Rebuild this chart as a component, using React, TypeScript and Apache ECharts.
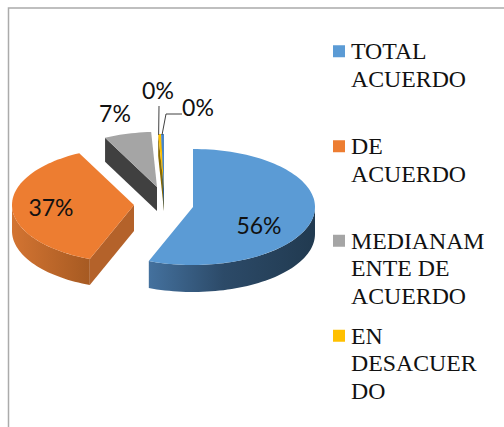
import React, { useEffect, useRef } from "react";
import * as echarts from "echarts";

const categories = ["TOTAL ACUERDO", "DE ACUERDO", "MEDIANAMENTE DE ACUERDO", "EN DESACUERDO", "TOTAL DESACUERDO"];
const shares = [55.9, 36.7, 6.6, 0.4, 0.4];
const percentLabels = ["56%", "37%", "7%", "0%", "0%"];
const legendLines = [["TOTAL", "ACUERDO"], ["DE", "ACUERDO"], ["MEDIANAM", "ENTE DE", "ACUERDO"], ["EN", "DESACUER", "DO"]];
const topColors = ["#5B9BD5", "#ED7D31", "#A5A5A5", "#FFC000", "#4A86C8"];

const CX = 162, CY = 204, RX = 122, RY = 58;
const depths = [27, 26, 24, 22, 22];
const radiusScale = [1, 1, 0.95, 0.95, 0.95];
const explode = [[31, 3], [-28, 1], [-5, -17], [2, -15], [2, -15]];
const labelAt = [[259, 225], [51, 207], [115, 113], [158, 90], [198, 107]];
const legendTop = [10, 105, 172, 267];
const wallFills = [
  [[0, "#44719E"], [0.45, "#2C4A68"], [1, "#213A50"]],
  [[0, "#D37432"], [1, "#A65A22"]],
  [[0, "#6E6E6E"], [1, "#505050"]],
  [[0, "#7F6000"], [1, "#7F6000"]],
  [[0, "#2F5F8F"], [1, "#2F5F8F"]],
];
const faceColors = ["#2C4A68", "#B4622A", "#404040", "#8A6A00", "#2F5F8F"];
const total = shares.reduce((a, b) => a + b, 0);

function rim(i: number, deg: number): number[] {
  const t = (deg * Math.PI) / 180;
  return [
    CX + explode[i][0] + RX * radiusScale[i] * Math.sin(t),
    CY + explode[i][1] - RY * radiusScale[i] * Math.cos(t),
  ];
}
function arc(i: number, a: number, b: number): number[][] {
  const n = Math.max(2, Math.ceil(Math.abs(b - a) / 2));
  const pts: number[][] = [];
  for (let k = 0; k <= n; k++) pts.push(rim(i, a + ((b - a) * k) / n));
  return pts;
}

function sliceRenderer(i: number) {
  return () => {
    const start = (shares.slice(0, i).reduce((a, b) => a + b, 0) / total) * 360;
    const end = start + (shares[i] / total) * 360;
    const apex = [CX + explode[i][0], CY + explode[i][1]];
    const down = (p: number[]) => [p[0], p[1] + depths[i]];
    const children: any[] = [];
    const wa = Math.max(start, 90), wb = Math.min(end, 270);
    if (wb > wa) {
      const top = arc(i, wa, wb);
      const stops = wallFills[i].map(([offset, color]) => ({ offset, color }));
      children.push({
        type: "polygon",
        shape: { points: [...top, ...top.slice().reverse().map(down)] },
        style: { fill: new echarts.graphic.LinearGradient(0, 0, 1, 0, stops as any) },
        z2: 1,
      });
    }
    if (i > 0) {
      const r = rim(i, start);
      children.push({
        type: "polygon",
        shape: { points: [apex, r, down(r), down(apex)] },
        style: { fill: faceColors[i] },
        z2: 2,
      });
    }
    children.push({
      type: "polygon",
      shape: { points: [apex, ...arc(i, start, end)] },
      style: { fill: topColors[i] },
      z2: 3,
    });
    if (i === 3) {
      const r = rim(i, (start + end) / 2);
      children.push({
        type: "line",
        shape: { x1: labelAt[3][0] + 1, y1: 106, x2: r[0] - 1, y2: r[1] + 1 },
        style: { stroke: "#404040", lineWidth: 1 },
        z2: 4,
      });
    }
    if (i === 4) {
      const r = rim(i, (start + end) / 2);
      children.push({
        type: "polyline",
        shape: { points: [[182, 114], [166, 114], [r[0] - 0.5, r[1] + 1]] },
        style: { stroke: "#404040", lineWidth: 1, fill: "none" },
        z2: 4,
      });
    }
    children.push({
      type: "text",
      z2: 5,
      style: {
        text: percentLabels[i],
        x: labelAt[i][0],
        y: labelAt[i][1],
        align: "center",
        verticalAlign: "middle",
        fill: "#111111",
        font: "23px Lato",
      },
    });
    return { type: "group", children };
  };
}

export default function App() {
  const ref = useRef<HTMLDivElement>(null);
  useEffect(() => {
    document.body.style.margin = "0";
    const chart = echarts.init(ref.current!, undefined, { renderer: "svg" });
    chart.setOption({
      animation: false,
      backgroundColor: "#FFFFFF",
      legend: legendLines.map((lines, i) => ({
        show: true,
        orient: "vertical",
        left: 333,
        top: legendTop[i],
        padding: 0,
        selectedMode: false,
        icon: "rect",
        itemWidth: 12,
        itemHeight: 12,
        itemGap: 0,
        data: [{ name: categories[i], itemStyle: { color: topColors[i] } }],
        formatter: () => "\n".repeat(lines.length - 1) + lines.join("\n"),
        textStyle: {
          fontFamily: "Liberation Serif",
          fontSize: 23.8,
          lineHeight: 27.5,
          color: "#111111",
          padding: [0, 0, 0, 1],
        },
      })),
      graphic: [
        {
          type: "polyline",
          shape: { points: [[8.5, 427], [8.5, 8], [504, 8]] },
          style: { stroke: "#ABABAB", lineWidth: 1.5, fill: "none" },
        },
      ],
      series: categories.map((name, i) => ({
        type: "custom",
        name,
        coordinateSystem: "none",
        itemStyle: { color: topColors[i] },
        data: [shares[i]],
        renderItem: sliceRenderer(i),
        silent: true,
      })),
    });
    return () => chart.dispose();
  }, []);
  return <div ref={ref} style={{ width: 504, height: 427 }} />;
}
